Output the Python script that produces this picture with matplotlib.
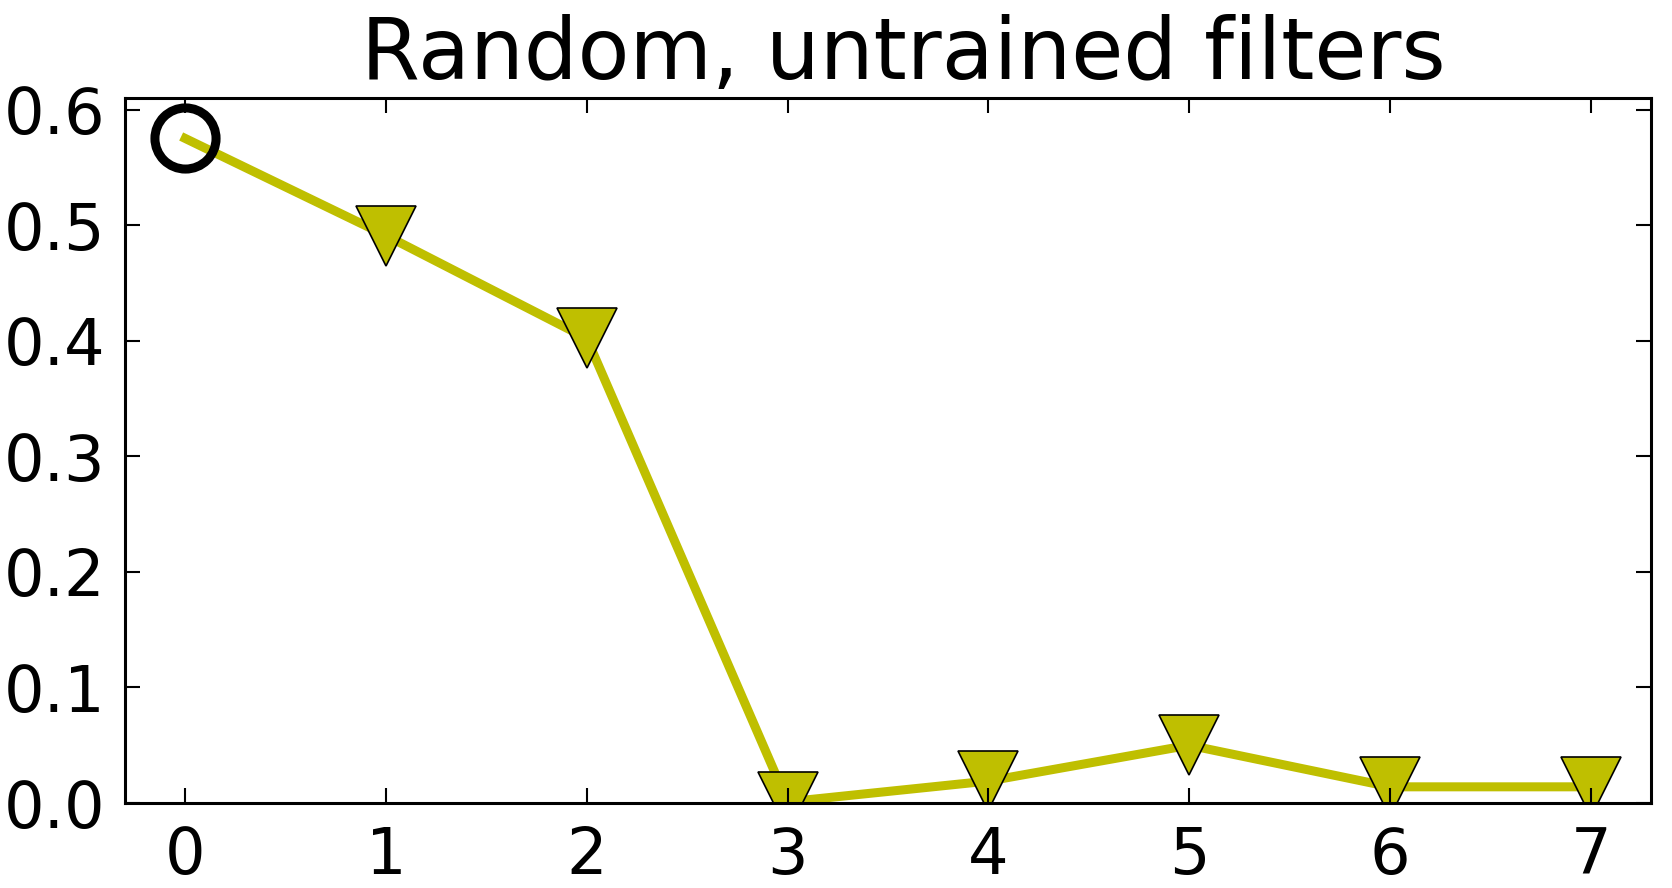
""" Accuracy per layer for random, untrained filters. """

import numpy as np
import matplotlib
matplotlib.use("Agg")
import matplotlib.pyplot as plt

layers = [0, 1, 2, 3, 4, 5, 6, 7]
scores = [0.575, 0.491, 0.402, 0.001, 0.019, 0.050, 0.014, 0.014]
yticks = [0.0, 0.1, 0.2, 0.3, 0.4, 0.5, 0.6]

OLIVE = (0.75, 0.75, 0.0)

fig = plt.figure(figsize=(16.72, 8.88), dpi=100)
ax = fig.add_axes([125 / 1672, 1 - 803 / 888, (1651 - 125) / 1672, (803 - 98) / 888])
ax.set_axisbelow(False)

ax.plot(layers, scores, color=OLIVE, linewidth=6.5, zorder=1.5)
ax.plot(layers[1:], scores[1:], linestyle='none', marker='v', markersize=43,
        markerfacecolor=OLIVE, markeredgecolor='black', markeredgewidth=1.2,
        zorder=2)
ax.plot(layers[:1], scores[:1], linestyle='none', marker='o', markersize=44,
        markerfacecolor='none', markeredgecolor='black', markeredgewidth=6.5,
        zorder=2.2)

ax.set_xlim(-0.3, 7.3)
ax.set_ylim(0, 0.61)
ax.set_xticks(layers)
ax.set_yticks(yticks)
ax.set_yticklabels([f"{v:.1f}" for v in yticks])

ax.tick_params(direction='in', top=True, right=True, length=11, width=1.5,
               labelsize=46)
ax.tick_params(axis='y', pad=14)
ax.tick_params(axis='x', pad=16)
for s in ax.spines.values():
    s.set_linewidth(2.2)

ax.set_title('Random, untrained filters', fontsize=61, pad=14, x=0.51)

fig.savefig('out.png', dpi=100)
